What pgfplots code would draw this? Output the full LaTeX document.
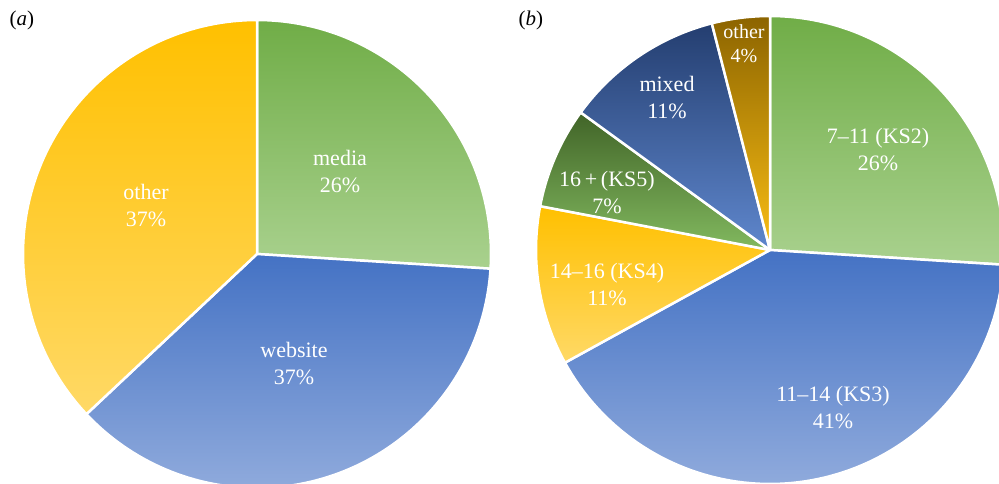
\documentclass[border=0pt]{standalone}
\usepackage{pgfplots}
\pgfplotsset{compat=1.18}
\usepackage{fontspec}
\setmainfont{Liberation Serif}
\definecolor{gTop}{RGB}{112,173,71}
\definecolor{gBot}{RGB}{169,209,142}
\definecolor{bTop}{RGB}{68,114,196}
\definecolor{bBot}{RGB}{143,170,220}
\definecolor{yTop}{RGB}{255,192,0}
\definecolor{yBot}{RGB}{255,217,102}
\definecolor{dgTop}{RGB}{65,100,40}
\definecolor{dgBot}{RGB}{130,185,95}
\definecolor{dbTop}{RGB}{36,62,112}
\definecolor{dbBot}{RGB}{95,135,205}
\definecolor{dyTop}{RGB}{140,100,0}
\definecolor{dyBot}{RGB}{250,190,20}
% #1 cx, #2 cy, #3 cumulative % before, #4 value %, #5 top colour, #6 bottom colour
\newcommand{\slice}[6]{%
  \addplot[draw=white, line width=2.5pt, line join=round, top color=#5, bottom color=#6,
    domain={90-3.6*(#3+#4)}:{90-3.6*(#3)}, samples=90, variable=\t]
    ({#1+234*cos(\t)},{#2+234*sin(\t)}) -- (#1,#2) -- cycle;}
\begin{document}
\begin{tikzpicture}
\begin{axis}[at={(0pt,0pt)}, anchor=south west,
  width=999pt, height=483pt, scale only axis,
  xmin=0, xmax=999, ymin=0, ymax=483, hide axis, clip=true]
% (a)
\slice{257}{229}{0}{26}{gTop}{gBot}
\slice{257}{229}{26}{37}{bTop}{bBot}
\slice{257}{229}{63}{37}{yTop}{yBot}
% (b)
\slice{770}{233}{0}{26}{gTop}{gBot}
\slice{770}{233}{26}{41}{bTop}{bBot}
\slice{770}{233}{67}{11}{yTop}{yBot}
\slice{770}{233}{78}{7}{dgTop}{dgBot}
\slice{770}{233}{85}{11}{dbTop}{dbBot}
\slice{770}{233}{96}{4}{dyTop}{dyBot}
\end{axis}
\begin{scope}[every node/.style={text=white, align=center, font=\fontsize{22}{27}\selectfont}]
\node at (340pt,311pt) {media\\26\%};
\node at (146pt,277pt) {other\\37\%};
\node at (294pt,119pt) {website\\37\%};
\node at (878pt,333pt) {7–11 (KS2)\\26\%};
\node at (833pt,75pt) {11–14 (KS3)\\41\%};
\node at (607pt,198pt) {14–16 (KS4)\\11\%};
\node at (607pt,290pt) {16\,+\,(KS5)\\7\%};
\node at (667pt,385pt) {mixed\\11\%};
\node[font=\fontsize{20}{24}\selectfont] at (744pt,439pt) {other\\4\%};
\end{scope}
\node[anchor=west, font=\fontsize{21}{25}\selectfont] at (6pt,463pt) {(\textit{a})};
\node[anchor=west, font=\fontsize{21}{25}\selectfont] at (515pt,463pt) {(\textit{b})};
\pgfresetboundingbox
\useasboundingbox (0pt,0pt) rectangle (999pt,483pt);
\end{tikzpicture}
\end{document}
